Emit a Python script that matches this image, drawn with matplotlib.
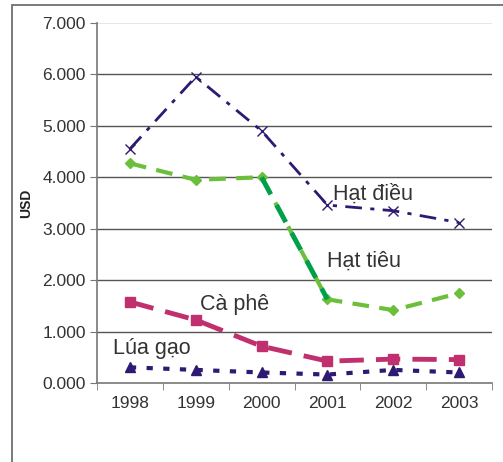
import matplotlib.pyplot as plt
from matplotlib.patches import Rectangle
import numpy as np

plt.rcParams['font.family'] = ['Liberation Sans', 'DejaVu Sans']

years = ["1998", "1999", "2000", "2001", "2002", "2003"]
hat_dieu = [4.55, 5.95, 4.90, 3.46, 3.35, 3.12]
hat_tieu = [4.27, 3.95, 4.00, 1.63, 1.42, 1.75]
ca_phe = [1.58, 1.23, 0.72, 0.43, 0.47, 0.46]
lua_gao = [0.31, 0.26, 0.21, 0.17, 0.26, 0.21]

fig = plt.figure(figsize=(5.03, 4.62), dpi=100)
# outer frame, open at right and bottom edges
fig.patches.append(Rectangle((12/503, -0.1), 1.2, 1.1 - 5/462, transform=fig.transFigure,
                             fill=False, edgecolor='#707070', lw=1.3))
ax = fig.add_axes([97/503, 1 - 383.3/462, 395/503, 360.6/462])

x = np.arange(len(years))
navy = '#2e1a72'
lgreen = '#6cbf3a'
dgreen = '#00a04a'
pink = '#c0306e'

ax.plot(x, hat_dieu, color=navy, lw=2, dashes=(6, 3, 1.5, 3), marker='x', ms=7,
        mew=1, zorder=4)
ax.plot(x, hat_tieu, color=lgreen, lw=3, dashes=(4, 2.5), marker='D', ms=5.5, zorder=4)
ax.plot(x[2:4], hat_tieu[2:4], color=dgreen, lw=3.5, dashes=(4, 2.5), zorder=4)
ax.plot(x, ca_phe, color=pink, lw=3.5, dashes=(5, 2.5), marker='s', ms=7, zorder=4)
ax.plot(x, lua_gao, color=navy, lw=3, dashes=(1.5, 2.5), marker='^', ms=7, zorder=4)

txt = dict(fontsize=15.5, color='#333333', va='baseline', ha='left')
ax.text(3.085, 3.56, "Hạt điều", **txt)
ax.text(3.0, 2.26, "Hạt tiêu", **txt)
ax.text(1.065, 1.42, "Cà phê", **txt)
ax.text(-0.25, 0.57, "Lúa gạo", **txt)

ax.set_xlim(-0.5, 5.5)
ax.set_ylim(0, 7)
ax.set_yticks(range(8))
ax.set_yticklabels(["%.3f" % v for v in range(8)], fontsize=12.5, color='#333333')
for v in range(1, 7):
    ax.axhline(v, color='#555555', lw=1, zorder=1)
ax.axhline(7, color='#e2e2e2', lw=1.2, zorder=1)

ax.set_xticks(x)
ax.set_xticklabels(years, fontsize=12.5, color='#333333',
                   family=['Liberation Sans Narrow', 'Liberation Sans'])
ax.set_xticks(np.arange(-0.5, 6, 1), minor=True)
ax.tick_params(axis='x', which='major', length=0, pad=9)
ax.tick_params(axis='x', which='minor', length=5, color='#777777', direction='out')
ax.tick_params(axis='y', length=5, color='#777777', direction='out', pad=3)

for s in ['top', 'right']:
    ax.spines[s].set_visible(False)
for s in ['left', 'bottom']:
    ax.spines[s].set_color('#777777')
    ax.spines[s].set_linewidth(1.2)

ax.set_ylabel("USD", fontsize=10, fontweight='bold', color='#222222', labelpad=7)

fig.savefig("out.png", dpi=100)
